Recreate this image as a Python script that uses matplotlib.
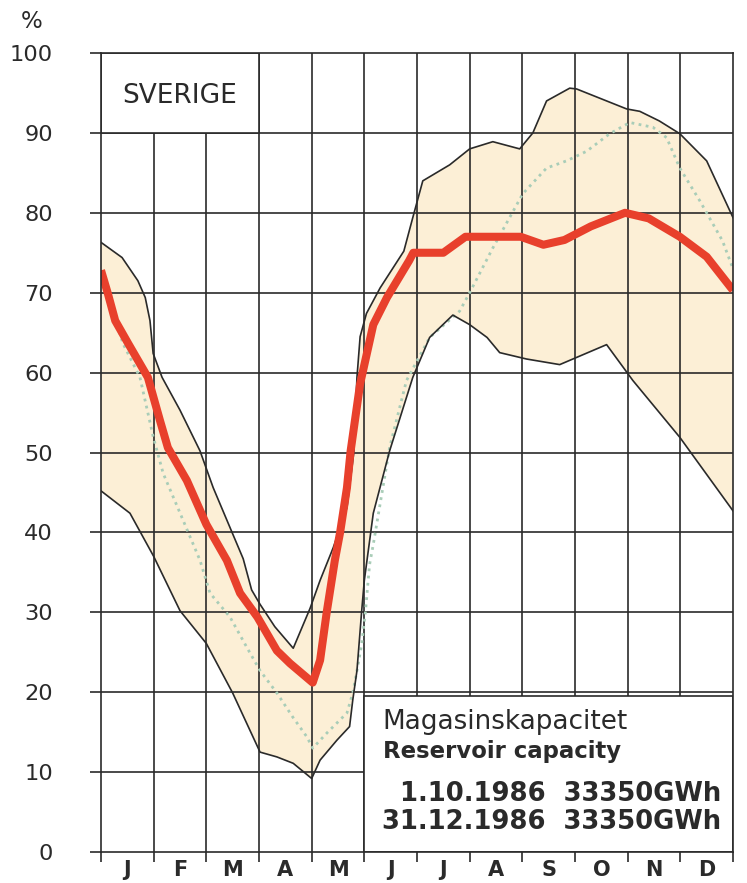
import matplotlib
matplotlib.use("Agg")
import matplotlib.pyplot as plt
from matplotlib.patches import Rectangle
import numpy as np

plt.rcParams['font.family'] = ['DejaVu Sans']

# ---------------- data (month position 0..12, percent) ----------------
months = ["J", "F", "M", "A", "M", "J", "J", "A", "S", "O", "N", "D"]
y_ticks = [0, 10, 20, 30, 40, 50, 60, 70, 80, 90, 100]

upper_x = [0, 0.4, 0.7, 0.84, 0.93, 0.99, 1.16, 1.5, 1.88, 2.13, 2.45, 2.7, 2.86,
           3.02, 3.3, 3.65, 3.97, 4.16, 4.41, 4.67, 4.8, 4.86, 4.92, 5.04, 5.3,
           5.75, 5.92, 6.11, 6.62, 7.0, 7.44, 7.95, 8.2, 8.46, 8.9, 9.03, 9.98,
           10.23, 10.6, 10.99, 11.5, 12]
upper_y = [76.3, 74.4, 71.5, 69.4, 66.5, 62.4, 59.4, 55.3, 50.2, 45.6, 40.6, 36.7, 32.8,
           31.0, 28.2, 25.5, 30.5, 34.0, 38.1, 43.1, 50.0, 59.4, 64.5, 67.4, 70.6,
           75.2, 79.4, 84.0, 86.0, 88.0, 88.9, 88.0, 90.0, 94.0, 95.6, 95.5, 93.0,
           92.7, 91.5, 89.9, 86.5, 79.4]

lower_x = [0, 0.55, 1.0, 1.5, 2.0, 2.5, 3.02, 3.34, 3.65, 4.0, 4.16, 4.48, 4.72,
           4.78, 4.86, 4.95, 5.0, 5.17, 5.48, 5.92, 6.24, 6.68, 7.0, 7.33, 7.57,
           8.08, 8.71, 9.6, 10.1, 10.99, 12]
lower_y = [45.2, 42.4, 37.0, 30.2, 26.1, 19.9, 12.5, 11.9, 11.1, 9.2, 11.5, 14.0, 15.7,
           19.0, 22.7, 30.2, 34.0, 42.4, 50.2, 59.4, 64.4, 67.2, 66.0, 64.4, 62.5,
           61.7, 61.0, 63.5, 59.0, 51.9, 42.7]

actual_x = [0, 0.13, 0.27, 0.52, 0.89, 1.12, 1.27, 1.63, 2.0, 2.39, 2.64, 2.97, 3.34,
            3.59, 4.02, 4.16, 4.29, 4.44, 4.54, 4.67, 4.74, 4.92, 5.17, 5.43, 5.85,
            5.93, 6.5, 6.92, 7.97, 8.4, 8.8, 9.3, 9.95, 10.4, 10.99, 11.5, 12]
actual_y = [72.8, 69.9, 66.5, 63.6, 59.4, 54.0, 50.6, 46.5, 41.0, 36.5, 32.4, 29.4, 25.2,
            23.6, 21.2, 24.0, 30.2, 36.5, 40.0, 45.6, 50.2, 58.6, 66.0, 69.4, 74.0,
            75.0, 75.0, 77.0, 77.0, 76.0, 76.6, 78.3, 80.0, 79.3, 77.0, 74.5, 70.3]

median_x = [0, 0.42, 0.74, 0.99, 1.18, 1.56, 1.88, 2.07, 2.45, 2.77, 3.02, 3.34, 3.64,
            3.91, 4.02, 4.29, 4.67, 4.78, 4.86, 4.95, 5.02, 5.1, 5.17, 5.48, 5.8,
            6.24, 6.81, 7.0, 7.44, 8.01, 8.46, 8.84, 9.22, 9.66, 10.04, 10.48, 10.74,
            10.99, 11.37, 11.8, 12]
median_y = [72.0, 63.6, 59.4, 52.0, 47.4, 41.5, 36.5, 32.4, 29.4, 25.6, 22.7, 19.9, 16.9,
            14.4, 13.0, 14.9, 17.4, 19.9, 22.7, 26.0, 30.0, 36.0, 38.5, 50.6, 59.0,
            64.4, 67.7, 70.0, 75.6, 82.4, 85.6, 86.5, 87.7, 89.9, 91.3, 90.7, 89.4,
            85.6, 81.5, 76.5, 73.0]

title_text = "SVERIGE"
legend_lines = ["Magasinskapacitet", "Reservoir capacity",
                "1.10.1986  33350GWh", "31.12.1986  33350GWh"]

# ---------------- styling ----------------
W, H = 747, 883
fig = plt.figure(figsize=(W / 100, H / 100), dpi=100)
left, right, top, bottom = 101, 733, 53, 852
ax = fig.add_axes([left / W, 1 - bottom / H, (right - left) / W, (bottom - top) / H])
ax.set_xlim(0, 12)
ax.set_ylim(0, 100)

grid_c = "#2a2a2a"
fill_c = "#fcefd6"
red_c = "#e8402c"
dot_c = "#a9cdb8"

# grid
for yv in y_ticks[1:-1]:
    ax.axhline(yv, color=grid_c, lw=1.2, zorder=1)
for xv in range(1, 12):
    ax.axvline(xv, color=grid_c, lw=1.2, zorder=1)

# band
poly_x = list(upper_x) + list(lower_x[::-1])
poly_y = list(upper_y) + list(lower_y[::-1])
ax.fill(poly_x, poly_y, color=fill_c, lw=0, zorder=0.5)
ax.plot(upper_x, upper_y, color=grid_c, lw=1.2, zorder=3, solid_joinstyle='round')
ax.plot(lower_x, lower_y, color=grid_c, lw=1.2, zorder=3, solid_joinstyle='round')
ax.plot(median_x, median_y, color=dot_c, lw=2.0, ls=(0, (1, 1.6)), zorder=2.5)
ax.plot(actual_x, actual_y, color=red_c, lw=5.8, zorder=4, solid_capstyle='butt',
        solid_joinstyle='round')

# boxes
ax.add_patch(Rectangle((0, 90), 3, 10, facecolor="white", edgecolor=grid_c, lw=1.2, zorder=6))
ax.text(1.5, 94.6, title_text, ha="center", va="center", fontsize=19, color="#2a2a2a", zorder=7)

ax.add_patch(Rectangle((5, 0), 7, 19.5, facecolor="white", edgecolor=grid_c, lw=1.2, zorder=6))
ax.text(5.35, 16.3, legend_lines[0], ha="left", va="center", fontsize=18.9, color="#2a2a2a", zorder=7)
ax.text(5.35, 12.6, legend_lines[1], ha="left", va="center", fontsize=16.4, fontweight="bold",
        color="#2a2a2a", zorder=7)
ax.text(11.78, 7.3, legend_lines[2], ha="right", va="center", fontsize=18.6, fontweight="bold",
        color="#2a2a2a", zorder=7)
ax.text(11.78, 3.75, legend_lines[3], ha="right", va="center", fontsize=18.6, fontweight="bold",
        color="#2a2a2a", zorder=7)

# spines
for s in ax.spines.values():
    s.set_color(grid_c)
    s.set_linewidth(1.2)
    s.set_zorder(8)

# ticks
ax.set_yticks(y_ticks)
ax.set_yticklabels([str(v) for v in y_ticks], fontsize=16.2, color="#2a2a2a")
ax.tick_params(axis="y", direction="out", length=7.9, width=1.2, color=grid_c, pad=26.6)
ax.set_xticks(range(0, 13))
ax.set_xticklabels([""] * 13)
ax.tick_params(axis="x", which="major", direction="out", length=7, width=1.2, color=grid_c)
ax.set_xticks(np.arange(0.5, 12, 1), minor=True)
ax.set_xticklabels(months, minor=True, fontsize=15, fontweight="bold", color="#2a2a2a")
ax.tick_params(axis="x", which="minor", length=0, pad=5.5)

fig.text(32 / W, 1 - 21 / H, "%", ha="center", va="center", fontsize=16.5, color="#2a2a2a")

fig.savefig("out.png", dpi=100)
